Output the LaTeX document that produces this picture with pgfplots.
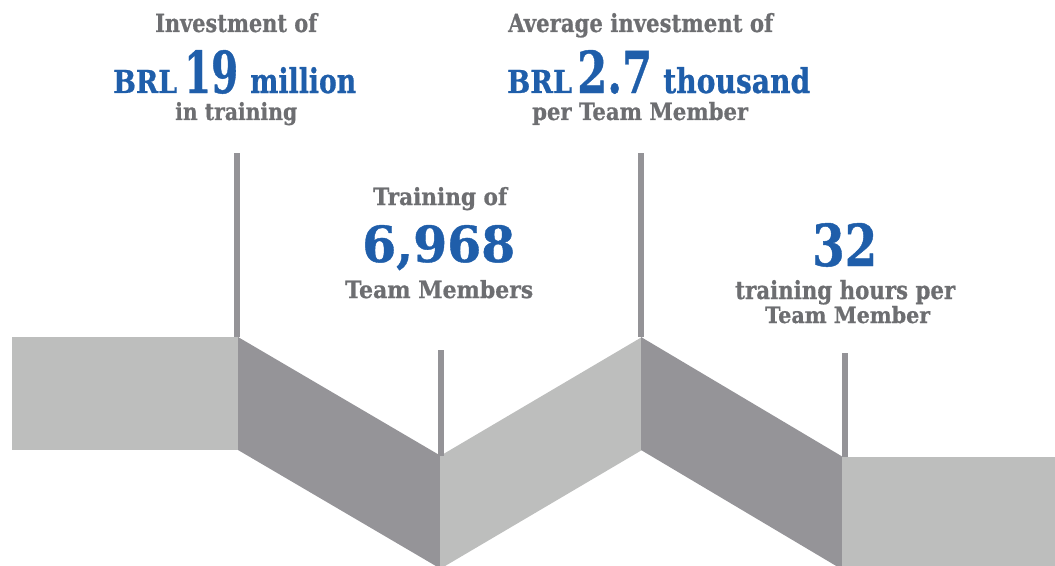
\documentclass[border=0pt]{standalone}
\usepackage{pgfplots}
\pgfplotsset{compat=1.18}
\usepackage{fontspec}
\usepackage{graphicx}
\newfontfamily\slab[BoldFeatures={FakeBold=0.8}]{DejaVu Serif}
\definecolor{txtgray}{RGB}{109,110,113}
\definecolor{numblue}{RGB}{31,94,170}
\definecolor{lightband}{RGB}{189,190,189}
\definecolor{darkband}{RGB}{149,148,152}
\definecolor{stem}{RGB}{148,147,151}
\newcommand{\lbl}[6]{\node[anchor=base west,inner sep=0pt,text=#5] at (axis cs:#1,#2) {\resizebox{#3bp}{#4bp}{\slab\bfseries #6}};}
\begin{document}
\begin{tikzpicture}
\begin{axis}[
  scale only axis, width=1055bp, height=566bp,
  xmin=0, xmax=1055, ymin=0, ymax=566, y dir=reverse,
  axis lines=none, ticks=none,
]
% ribbon segments
\addplot[fill=lightband, draw=none] coordinates {(12,337) (239,337) (239,450) (12,450)} -- cycle;
\addplot[fill=darkband, draw=none] coordinates {(238,337) (441,456) (441,569) (238,450)} -- cycle;
\addplot[fill=lightband, draw=none] coordinates {(440,456) (642,337) (642,450) (440,569)} -- cycle;
\addplot[fill=darkband, draw=none] coordinates {(641,337) (843,457) (843,570) (641,450)} -- cycle;
\addplot[fill=lightband, draw=none] coordinates {(842,457) (1055,457) (1055,570) (842,570)} -- cycle;
% stems
\addplot[stem, line width=6bp] coordinates {(237,153) (237,337)};
\addplot[stem, line width=6bp] coordinates {(441,350) (441,456)};
\addplot[stem, line width=6bp] coordinates {(641,153) (641,337)};
\addplot[stem, line width=6bp] coordinates {(845,353) (845,457)};
% block 1
\lbl{155}{32}{162}{19}{txtgray}{Investment of}
\lbl{113}{93}{64}{23}{numblue}{BRL}
\lbl{184}{93}{54}{43}{numblue}{19}
\lbl{250}{93}{106}{26}{numblue}{million}
\lbl{175}{120}{122}{18}{txtgray}{in training}
% block 2
\lbl{508}{32}{265}{19}{txtgray}{Average investment of}
\lbl{507}{93}{65}{23}{numblue}{BRL}
\lbl{577}{93}{75}{43}{numblue}{2.7}
\lbl{663}{93}{147}{26}{numblue}{thousand}
\lbl{532}{120}{216}{18}{txtgray}{per Team Member}
% block 3
\lbl{373}{205}{134}{18}{txtgray}{Training of}
\lbl{362}{262}{153}{37}{numblue}{6,968}
\lbl{345}{298}{188}{18}{txtgray}{Team Members}
% block 4
\lbl{812}{266}{65}{43}{numblue}{32}
\lbl{735}{299}{220}{19}{txtgray}{training hours per}
\lbl{765}{323}{165}{17}{txtgray}{Team Member}
\end{axis}
\path (current axis.south west) rectangle (current axis.north east);
\end{tikzpicture}
\end{document}
